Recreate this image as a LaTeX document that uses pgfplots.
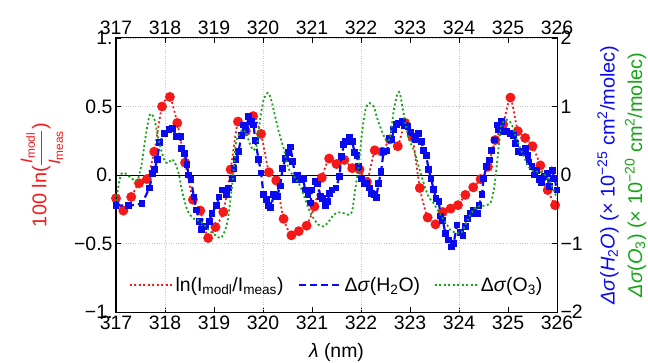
\documentclass[border=0pt]{standalone}
\usepackage{fontspec}
\setmainfont{Liberation Sans}
\usepackage{pgfplots}
\pgfplotsset{compat=1.18}
\definecolor{myred}{RGB}{245,25,25}
\definecolor{myblue}{RGB}{10,10,240}
\definecolor{mygreen}{RGB}{20,165,20}
\begin{document}
\begin{tikzpicture}
\pgfplotsset{
  common/.style={
    scale only axis, width=441bp, height=274bp,
    at={(0,0)}, anchor=south west,
    clip mode=individual,
    xmin=317, xmax=326,
    xtick={317,318,319,320,321,322,323,324,325,326},
    xticklabels={317,318,319,320,321,322,323,324,325,326},
    tick align=inside,
    major tick length=5bp,
    tick style={black, line width=0.8bp},
    axis line style={line width=1bp},
    tick label style={font=\fontsize{19.5}{22}\selectfont},
  }
}
\begin{axis}[common,
  ymin=-1, ymax=1,
  ytick={-1,-0.5,0,0.5,1},
  yticklabels={−1.,−0.5,0.,0.5,1.},
  xtick pos=bottom, ytick pos=left,
  xticklabel pos=bottom, yticklabel pos=left,
  ymajorgrids=true,
  grid style={dotted, gray!45, line width=0.8bp},
  extra x ticks={318,320,322,324},
  extra x tick labels={\mbox{},\mbox{},\mbox{},\mbox{}},
  extra x tick style={xmajorgrids=true, major tick length=0pt},
  xlabel={\textit{λ} (nm)},
  xlabel style={font=\fontsize{19.5}{22}\selectfont, at={(axis description cs:0.5,-0.146)}, anchor=center},
]
\addplot[black, line width=0.8bp, forget plot] coordinates {(317,0) (326,0)};
\addplot[myred, line width=1.8bp, dash pattern=on 2bp off 2.5bp, smooth, tension=0.4,
  mark=*, mark size=4bp, mark options={solid, fill=myred, draw=myred}, forget plot] coordinates {
(317.00,-0.17) (317.15,-0.26) (317.31,-0.16) (317.47,-0.06) (317.63,-0.03) (317.78,0.17)
(317.94,0.50) (318.10,0.57) (318.25,0.38) (318.41,0.09) (318.57,-0.18) (318.72,-0.26)
(318.88,-0.46) (319.03,-0.38) (319.19,-0.27) (319.34,0.04) (319.49,0.39) (319.65,0.32)
(319.80,0.43) (319.96,0.30) (320.12,0.02) (320.27,-0.04) (320.42,-0.32) (320.58,-0.44)
(320.73,-0.41) (320.89,-0.37) (321.05,-0.23) (321.20,-0.02) (321.35,0.12) (321.50,0.08)
(321.66,0.11) (321.82,0.05) (321.97,0.04) (322.12,-0.05) (322.28,0.18) (322.43,0.17)
(322.59,0.26) (322.75,0.21) (322.90,0.38) (323.05,0.275) (323.20,-0.095) (323.36,-0.31)
(323.52,-0.36) (323.67,-0.27) (323.83,-0.245) (323.98,-0.22) (324.13,-0.145) (324.29,-0.09)
(324.44,-0.03) (324.59,0.06) (324.74,0.255) (324.90,0.37) (325.05,0.565) (325.20,0.32)
(325.35,0.27) (325.50,0.21) (325.66,0.07) (325.81,-0.11) (325.96,-0.22)
};
\node[rotate=90, anchor=center, text=myred, font=\fontsize{20}{24}\selectfont]
  at (axis description cs:-0.168,0.5)
  {100 ln($\displaystyle\frac{\mbox{\fontsize{17}{19}\selectfont\textit{I}\textsubscript{modl}}}{\mbox{\fontsize{17}{19}\selectfont\textit{I}\textsubscript{meas}}}$)};
\end{axis}
\begin{axis}[common,
  ymin=-2, ymax=2,
  ytick={-2,-1,0,1,2},
  yticklabels={−2,−1,0,1,2},
  xtick pos=top, ytick pos=right,
  xticklabel pos=top, yticklabel pos=right,
  legend columns=3,
  legend style={at={(axis description cs:0.5,0.099)}, anchor=center, draw=none, fill=none,
    font=\fontsize{19.5}{22}\selectfont,
    /tikz/every even column/.append style={column sep=12bp}},
  legend image code/.code={\draw[#1] (0bp,0bp) -- (43bp,0bp);},
]
\addlegendimage{myred, line width=1.8bp, dash pattern=on 2bp off 2.5bp}
\addlegendentry{ln(I\textsubscript{modl}/I\textsubscript{meas})}
\addlegendimage{myblue, line width=2.2bp, dash pattern=on 7bp off 4bp}
\addlegendentry{Δ\textit{σ}(H\textsubscript{2}O)}
\addlegendimage{mygreen, line width=1.8bp, dash pattern=on 2bp off 2.5bp}
\addlegendentry{Δ\textit{σ}(O\textsubscript{3})}
\addplot[myblue, line width=2.2bp, dash pattern=on 7bp off 4bp,
  mark=square*, mark size=2.3bp, mark options={solid, fill=myblue, draw=myblue}, forget plot] coordinates {
(317.00,-0.44) (317.26,-0.45) (317.53,-0.42) (317.68,-0.19) (317.75,0.02) (317.79,0.08)
(317.84,0.23) (317.89,0.47) (317.99,0.61) (318.08,0.67) (318.16,0.68) (318.23,0.56)
(318.31,0.56) (318.33,0.39) (318.40,0.31) (318.45,0.15) (318.48,0) (318.53,-0.07)
(318.59,-0.32) (318.64,-0.51) (318.70,-0.68) (318.74,-0.80) (318.82,-0.75) (318.90,-0.68)
(318.96,-0.56) (319.05,-0.44) (319.10,-0.32) (319.18,-0.22) (319.25,-0.29) (319.30,-0.19)
(319.37,-0.05) (319.41,0.10) (319.45,0.23) (319.50,0.34) (319.56,0.58) (319.61,0.73)
(319.65,0.66) (319.71,0.85) (319.76,0.78) (319.81,0.73) (319.84,0.50) (319.91,0.23)
(319.96,0.03) (320.01,-0.28) (320.07,-0.36) (320.12,-0.44) (320.16,-0.47) (320.22,-0.29)
(320.29,-0.31) (320.35,-0.16) (320.40,0.10) (320.46,0.24) (320.51,0.33) (320.56,0.41)
(320.61,0.20) (320.66,-0.06) (320.71,0) (320.76,-0.06) (320.82,-0.05) (320.86,-0.22)
(320.92,-0.29) (320.97,-0.41) (321.00,-0.22) (321.06,-0.10) (321.12,-0.13) (321.17,-0.31)
(321.22,-0.34) (321.27,-0.44) (321.32,-0.39) (321.35,-0.27) (321.41,-0.22) (321.49,-0.19)
(321.56,-0.02) (321.60,0.27) (321.65,0.44) (321.69,0.49) (321.76,0.55) (321.82,0.49)
(321.87,0.33) (321.92,0.28) (321.95,0.12) (322.01,-0.05) (322.06,-0.12) (322.11,-0.12)
(322.17,-0.19) (322.22,-0.27) (322.28,-0.28) (322.31,-0.33) (322.36,-0.12) (322.41,0.05)
(322.46,0.34) (322.53,0.35) (322.58,0.54) (322.63,0.52) (322.67,0.67) (322.72,0.74)
(322.77,0.76) (322.84,0.78) (322.89,0.72) (322.96,0.71) (323.01,0.62) (323.08,0.56)
(323.12,0.52) (323.18,0.60) (323.23,0.49) (323.28,0.36) (323.33,0.29) (323.38,0.08)
(323.43,-0.05) (323.48,-0.21) (323.53,-0.34) (323.59,-0.39) (323.62,-0.60) (323.67,-0.66)
(323.72,-0.85) (323.78,-0.95) (323.84,-1.05) (323.89,-1.00) (323.96,-0.73) (324.03,-0.84)
(324.08,-0.88) (324.13,-0.75) (324.18,-0.63) (324.23,-0.56) (324.30,-0.51) (324.37,-0.56)
(324.41,-0.44) (324.47,-0.29) (324.50,-0.05) (324.56,0.12) (324.62,0.22) (324.67,0.36)
(324.73,0.51) (324.78,0.73) (324.81,0.67) (324.86,0.78) (324.91,0.63) (324.98,0.63)
(325.05,0.61) (325.12,0.58) (325.16,0.46) (325.22,0.34) (325.29,0.32) (325.35,0.39)
(325.41,0.29) (325.43,0.19) (325.49,0.12) (325.54,0) (325.59,0.07) (325.65,-0.07)
(325.69,-0.11) (325.75,-0.02) (325.80,0.02) (325.84,-0.17) (325.90,0.07) (325.95,-0.05)
(326.00,-0.22)
};
\addplot[mygreen, line width=1.8bp, dash pattern=on 2bp off 2.5bp, smooth, tension=0.5, forget plot] coordinates {
(317.00,-0.38) (317.09,-0.02) (317.17,0.03) (317.32,-0.05) (317.43,-0.08) (317.52,0.15)
(317.60,0.54) (317.69,0.88) (317.78,0.82) (317.88,0.48) (317.98,0.23) (318.06,0.17)
(318.14,0.23) (318.22,0.15) (318.28,0.02) (318.35,-0.24) (318.46,-0.52) (318.59,-0.64)
(318.69,-0.66) (318.79,-0.72) (318.89,-0.80) (319.03,-0.88) (319.14,-0.92) (319.23,-0.80)
(319.29,-0.62) (319.37,-0.15) (319.41,0.15) (319.46,0.51) (319.59,0.66) (319.67,0.58)
(319.74,0.44) (319.81,0.36) (319.88,0.46) (319.94,0.80) (320.01,1.09) (320.10,1.20)
(320.17,1.09) (320.25,0.85) (320.33,0.61) (320.42,0.39) (320.52,0.10) (320.63,-0.02)
(320.73,-0.12) (320.83,-0.29) (320.93,-0.49) (321.03,-0.63) (321.14,-0.73) (321.24,-0.75)
(321.34,-0.68) (321.44,-0.58) (321.51,-0.55) (321.61,-0.55) (321.75,-0.58) (321.82,-0.52)
(321.88,-0.22) (321.95,0.12) (322.02,0.61) (322.09,0.95) (322.17,1.05) (322.26,1.00)
(322.33,0.83) (322.43,0.63) (322.53,0.49) (322.60,0.58) (322.67,0.95) (322.75,1.20)
(322.80,1.17) (322.87,0.90) (322.97,0.54) (323.08,0.36) (323.18,0.12) (323.28,-0.12)
(323.38,-0.32) (323.48,-0.41) (323.59,-0.54) (323.69,-0.66) (323.76,-0.73) (323.82,-0.80)
(323.96,-0.85) (324.06,-0.83) (324.16,-0.68) (324.27,-0.54) (324.37,-0.46) (324.50,-0.45)
(324.64,-0.41) (324.71,-0.22) (324.76,0.07) (324.81,0.41) (324.86,0.71) (324.94,0.80)
(325.01,0.80) (325.08,0.73) (325.16,0.56) (325.25,0.39) (325.34,0.24) (325.42,0.12)
(325.52,0.05) (325.63,0.05) (325.73,0.02) (325.83,-0.07) (325.93,-0.22) (326.00,-0.34)
};
\node[rotate=90, anchor=center, text=myblue, font=\fontsize{20}{24}\selectfont]
  at (axis description cs:1.116,0.5)
  {\textit{Δσ}(\textit{H}\textsubscript{2}\textit{O}) (× 10\textsuperscript{−25} cm\textsuperscript{2}/molec)};
\node[rotate=90, anchor=center, text=mygreen, font=\fontsize{20}{24}\selectfont]
  at (axis description cs:1.178,0.5)
  {\textit{Δσ}(\textit{O}\textsubscript{3}) (× 10\textsuperscript{−20} cm\textsuperscript{2}/molec)};
\end{axis}
\pgfresetboundingbox
\path[use as bounding box] (-116bp,-51bp) rectangle (532bp,312bp);
\end{tikzpicture}
\end{document}
